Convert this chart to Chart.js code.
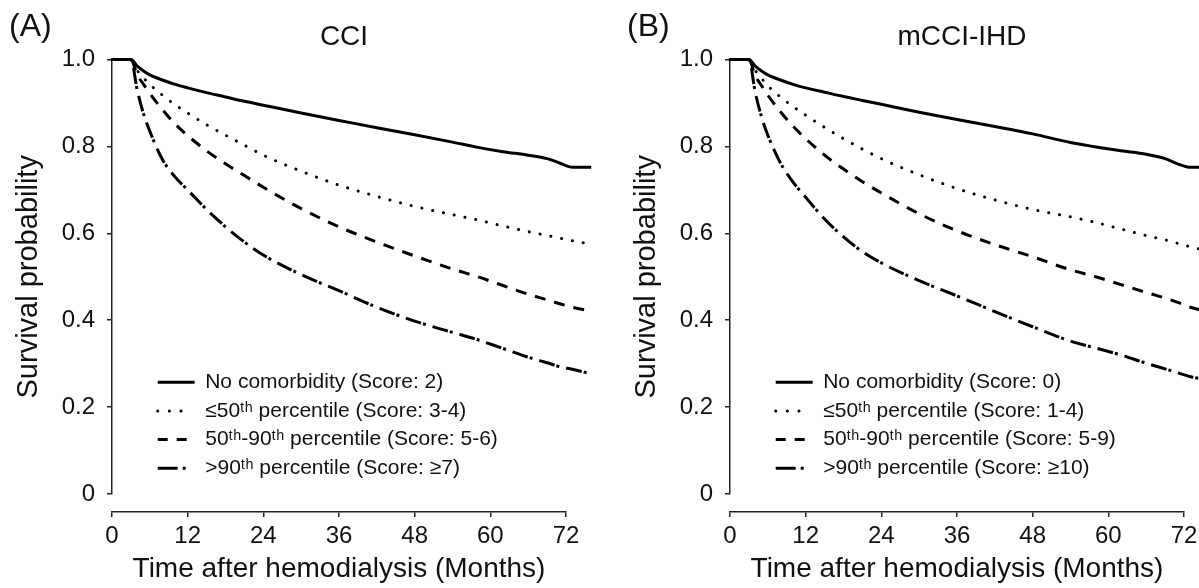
<!DOCTYPE html>
<html>
<head>
<meta charset="utf-8">
<title>Survival after hemodialysis by comorbidity index</title>
<script src="https://cdn.jsdelivr.net/npm/chart.js@4.4.1/dist/chart.umd.min.js"></script>
<style>
html, body { margin: 0; padding: 0; background: #fff; overflow: hidden; }
#wrap { display: flex; width: 1236px; height: 588px; }
.panel { position: relative; width: 618px; height: 588px; flex: none; }
.panel canvas { display: block; }
.tag { position: absolute; left: 9px; top: 9px; font: 32px "Liberation Sans", Arial, sans-serif; color: #111; line-height: 1; }
</style>
</head>
<body>
<div id="wrap">
	<div class="panel"><span class="tag">(A)</span><canvas id="chartA" width="618" height="588"></canvas></div>
	<div class="panel"><span class="tag">(B)</span><canvas id="chartB" width="618" height="588"></canvas></div>
</div>
<script>
// time points (months) the curves are read at
var months = [0, 3, 4, 5, 6, 8, 10, 12, 15, 18, 21, 24, 30, 36, 42, 48, 54, 58, 62, 66, 69, 71, 73, 76];
var monthTicks = [0, 12, 24, 36, 48, 60, 72];
var survivalTicks = [0, 0.2, 0.4, 0.6, 0.8, 1.0];

// (A) CCI groups
var cciNone = [1, 1, 0.985, 0.974, 0.965, 0.953, 0.943, 0.935, 0.924, 0.914, 0.904, 0.895, 0.877, 0.86, 0.843, 0.827, 0.81, 0.798, 0.788, 0.78, 0.772, 0.762, 0.752, 0.752];
var cciLow = [1, 1, 0.975, 0.958, 0.943, 0.918, 0.896, 0.877, 0.85, 0.826, 0.803, 0.78, 0.743, 0.711, 0.685, 0.662, 0.643, 0.631, 0.617, 0.604, 0.595, 0.589, 0.583, 0.575];
var cciMid = [1, 1, 0.965, 0.943, 0.922, 0.885, 0.852, 0.825, 0.79, 0.76, 0.733, 0.706, 0.657, 0.615, 0.58, 0.548, 0.518, 0.5, 0.48, 0.46, 0.447, 0.438, 0.43, 0.421];
var cciHigh = [1, 1, 0.93, 0.875, 0.835, 0.77, 0.73, 0.70, 0.655, 0.615, 0.58, 0.55, 0.505, 0.468, 0.43, 0.398, 0.372, 0.355, 0.335, 0.315, 0.302, 0.293, 0.287, 0.277];
var cciLabels = ['No comorbidity (Score: 2)', '≤50ᵗʰ percentile (Score: 3-4)', '50ᵗʰ-90ᵗʰ percentile (Score: 5-6)', '>90ᵗʰ percentile (Score: ≥7)'];

// (B) mCCI-IHD groups
var ihdNone = [1, 1, 0.985, 0.974, 0.965, 0.953, 0.943, 0.935, 0.925, 0.915, 0.906, 0.897, 0.879, 0.862, 0.846, 0.829, 0.809, 0.799, 0.79, 0.782, 0.772, 0.76, 0.752, 0.752];
var ihdLow = [1, 1, 0.975, 0.957, 0.94, 0.914, 0.892, 0.872, 0.844, 0.818, 0.794, 0.772, 0.735, 0.703, 0.677, 0.655, 0.638, 0.625, 0.61, 0.595, 0.585, 0.577, 0.569, 0.559];
var ihdMid = [1, 1, 0.963, 0.94, 0.918, 0.88, 0.847, 0.818, 0.78, 0.748, 0.719, 0.693, 0.645, 0.606, 0.574, 0.546, 0.516, 0.5, 0.482, 0.464, 0.451, 0.441, 0.43, 0.419];
var ihdHigh = [1, 1, 0.925, 0.868, 0.826, 0.762, 0.718, 0.683, 0.633, 0.592, 0.558, 0.532, 0.491, 0.456, 0.42, 0.385, 0.352, 0.336, 0.32, 0.301, 0.288, 0.279, 0.27, 0.262];
var ihdLabels = ['No comorbidity (Score: 0)', '≤50ᵗʰ percentile (Score: 1-4)', '50ᵗʰ-90ᵗʰ percentile (Score: 5-9)', '>90ᵗʰ percentile (Score: ≥10)'];

// line looks, same order as the groups
var dashes = [[], [0.1, 10.9], [11, 9], [16, 2, 3, 7]];
var caps = ['butt', 'round', 'butt', 'butt'];
var legendDashes = [[], [0.1, 11.5, 0.1, 11.5, 0.1, 60], [10, 9], [20, 5, 3, 60]];

Chart.defaults.font.family = '"Liberation Sans", Arial, sans-serif';
Chart.defaults.color = '#111';

// x axis sits a bit below the plot, legend sits in the lower left corner
var moveParts = {
	id: 'moveParts',
	afterLayout: function(chart) {
		var area = chart.chartArea;
		var lg = chart.legend;
		chart.scales.x.top = area.bottom + 18;
		lg.left = area.left + 38;
		lg.right = lg.left + lg.width;
		lg.top = 364;
		lg.bottom = area.bottom;
		chart.titleBlock.left += 5;
		chart.titleBlock.right += 5;
	}
};

function toPoints(vals) {
	return months.map(function(m, i) { return {x: m, y: vals[i]}; });
}

function buildPanel(id, title, labels, series) {
	var sets = [];
	for (var i = 0; i < series.length; i++) {
		sets.push({
			label: labels[i],
			data: toPoints(series[i]),
			borderColor: '#000',
			backgroundColor: '#000',
			borderWidth: 3,
			borderDash: dashes[i],
			borderCapStyle: caps[i],
			pointRadius: 0,
			cubicInterpolationMode: 'monotone',
			clip: false
		});
	}
	return new Chart(document.getElementById(id), {
		type: 'line',
		data: {datasets: sets},
		plugins: [moveParts],
		options: {
			responsive: false,
			animation: false,
			layout: {padding: {left: 0, right: 52, top: 0, bottom: 0}},
			plugins: {
				title: {
					display: true, text: title, fullSize: false,
					font: {size: 28, weight: 'normal'}, color: '#111',
					padding: {top: 20, bottom: 6}
				},
				legend: {
					position: 'chartArea',
					align: 'start',
					labels: {
						usePointStyle: true,
						pointStyleWidth: 37,
						font: {size: 21},
						color: '#111',
						padding: 7.7,
						generateLabels: function(chart) {
							var items = Chart.defaults.plugins.legend.labels.generateLabels(chart);
							items.forEach(function(it, k) {
								it.pointStyle = 'line';
								it.lineDash = legendDashes[k];
								it.lineCap = caps[k];
								it.lineWidth = 3;
								it.strokeStyle = '#000';
							});
							return items;
						}
					}
				},
				tooltip: {enabled: false}
			},
			scales: {
				x: {
					type: 'linear',
					min: 0,
					afterDataLimits: function(s) { s.max = 72; },
					afterBuildTicks: function(s) { s.ticks = monthTicks.map(function(v) { return {value: v}; }); },
					afterFit: function(s) { s.height = 94; },
					grid: {drawOnChartArea: false, tickLength: 5, color: '#222', lineWidth: 1.5},
					border: {color: '#222', width: 1.5},
					ticks: {stepSize: 12, font: {size: 24}, color: '#111', padding: 5, maxRotation: 0},
					title: {display: true, text: 'Time after hemodialysis (Months)', font: {size: 28}, color: '#111', padding: {top: 0, bottom: 2}}
				},
				y: {
					min: 0,
					max: 1,
					afterBuildTicks: function(s) { s.ticks = survivalTicks.map(function(v) { return {value: v}; }); },
					afterFit: function(s) { s.width = 112; },
					grid: {drawOnChartArea: false, tickLength: 5, color: '#222', lineWidth: 1.5},
					border: {color: '#222', width: 1.5},
					ticks: {
						font: {size: 24}, color: '#111', padding: 12,
						callback: function(v) { return v === 0 ? '0' : v.toFixed(1); }
					},
					title: {display: true, text: 'Survival probability', font: {size: 29}, color: '#111', padding: {top: 12, bottom: 0}}
				}
			}
		}
	});
}

buildPanel('chartA', 'CCI', cciLabels, [cciNone, cciLow, cciMid, cciHigh]);
buildPanel('chartB', 'mCCI-IHD', ihdLabels, [ihdNone, ihdLow, ihdMid, ihdHigh]);
</script>
</body>
</html>
